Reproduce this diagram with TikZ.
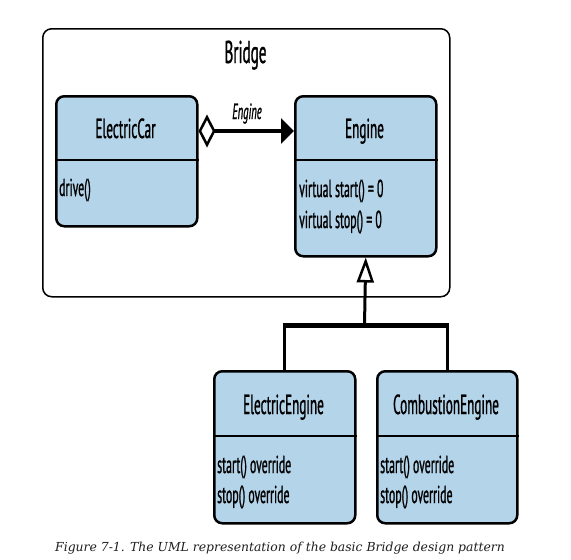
\documentclass[tikz,border=0pt]{standalone}
\usepackage{fontspec}
\usetikzlibrary{arrows.meta}
\newfontfamily\cf[FakeStretch=0.48, FakeBold=0.9]{PT Sans}
\newfontfamily\capfont{DejaVu Serif}
\definecolor{boxblue}{RGB}{180,212,234}
\definecolor{captiongray}{RGB}{30,30,30}
\tikzset{
  classbox/.style={draw=black, fill=boxblue, line width=2.5pt, rounded corners=8pt,
    inner sep=0pt, anchor=north west},
  divider/.style={line width=2.5pt},
  cname/.style={font=\cf\fontsize{27.5}{27.5}\selectfont, inner sep=0pt, anchor=base},
  member/.style={font=\cf\fontsize{24.5}{24.5}\selectfont, inner sep=0pt, anchor=base west},
  frame/.style={draw=black, line width=1.5pt, rounded corners=9pt, inner sep=0pt, anchor=north west},
}
\begin{document}
\begin{tikzpicture}[x=1pt,y=-1pt]
\useasboundingbox (0,0) rectangle (571,560);
% Bridge frame
\node[frame, minimum width=407pt, minimum height=268pt] (bridge) at (42,28) {};
\node[font=\cf\fontsize{31.5}{31.5}\selectfont, inner sep=0pt, anchor=base] (bridgetitle) at (245.5,63) {Bridge};
% ElectricCar
\node[classbox, minimum width=141pt, minimum height=130pt] (ec) at (55,95) {};
\draw[divider] (ec.west |- 0,160) -- (ec.east |- 0,160);
\node[cname] (ecname) at (125.5,138) {ElectricCar};
\node[member] (drive) at (59,196) {drive()};
% Engine
\node[classbox, minimum width=141pt, minimum height=160pt] (engine) at (294,95) {};
\draw[divider] (engine.west |- 0,160) -- (engine.east |- 0,160);
\node[cname] (engname) at (364.5,138) {Engine};
\node[member] (estart) at (299,197) {virtual start() = 0};
\node[member] (estop) at (299,228) {virtual stop() = 0};
% ElectricEngine
\node[classbox, minimum width=141pt, minimum height=152pt] (ee) at (213,370) {};
\draw[divider] (ee.west |- 0,436) -- (ee.east |- 0,436);
\node[cname] (eename) at (283.5,414) {ElectricEngine};
\node[member] (eestart) at (217,473) {start() override};
\node[member] (eestop) at (217,503) {stop() override};
% CombustionEngine
\node[classbox, minimum width=140pt, minimum height=152pt] (ce) at (376,370) {};
\draw[divider] (ce.west |- 0,436) -- (ce.east |- 0,436);
\node[cname] (cename) at (446,414) {CombustionEngine};
\node[member] (cestart) at (380,473) {start() override};
\node[member] (cestop) at (380,503) {stop() override};
% aggregation
\draw[line width=4pt, {Diamond[open, fill=white, length=17pt, width=33pt, line width=2.5pt]}-{Triangle[length=13pt, width=25pt]}]
  ([yshift=-36pt]ec.north east) -- ([yshift=-36pt]engine.north west);
\node[font=\cf\itshape\fontsize{22}{22}\selectfont, inner sep=0pt, anchor=base] (rolelabel) at (247,119) {Engine};
% inheritance
\coordinate (bar) at (364.5,325);
\draw[line width=3pt, -{Triangle[open, fill=white, length=25pt, width=17pt, line width=2.5pt]}]
  (bar) -- (engine.south);
\draw[line width=5pt] ([xshift=-1.5pt]ee.north |- bar) -- ([xshift=1.5pt]ce.north |- bar);
\draw[line width=3pt] (ee.north |- bar) -- (ee.north);
\draw[line width=3pt] (ce.north |- bar) -- (ce.north);
% caption
\node[font=\capfont\itshape\fontsize{12.4}{12.4}\selectfont, text=captiongray, inner sep=0pt, anchor=base west] (caption) at (55,551)
  {Figure 7-1. The UML representation of the basic Bridge design pattern};
\end{tikzpicture}
\end{document}
